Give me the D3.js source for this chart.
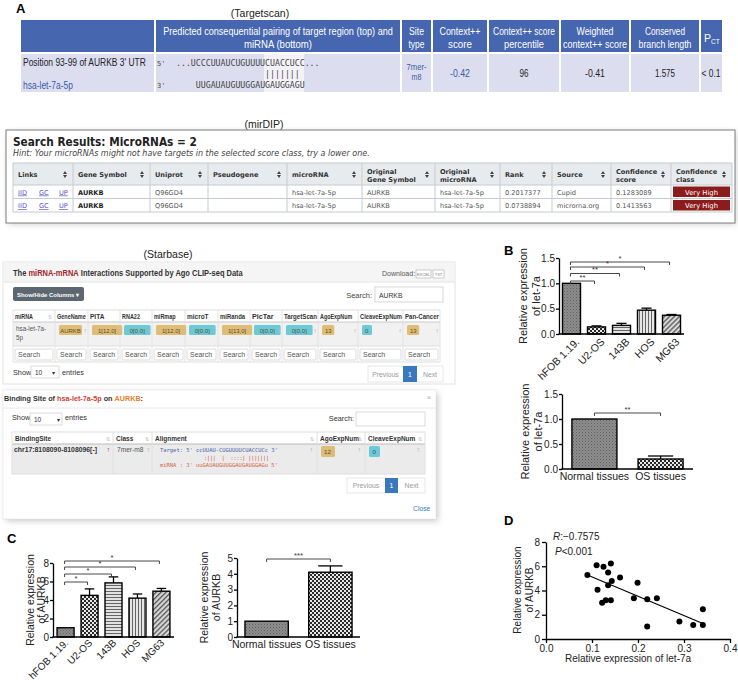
<!DOCTYPE html>
<html><head><meta charset="utf-8">
<script src="https://cdn.jsdelivr.net/npm/d3@7/dist/d3.min.js"></script>
<style>html,body{margin:0;padding:0;background:#fff;}svg{display:block;}</style>
</head><body>
<svg id="fig" width="738" height="680"></svg>
<script>
// ================= DATA =================
const cellLines = ["hFOB 1.19.", "U2-OS", "143B", "HOS", "MG63"];
const let7aCellMean = [1.0, 0.14, 0.17, 0.47, 0.37];
const let7aCellErr = [0, 0.02, 0.04, 0.04, 0.015];
const let7aCellSig = ["**", "**", "*", "*"];
const tissueGroups = ["Normal tissues", "OS tissues"];
const let7aTissueMean = [1.0, 0.2];
const let7aTissueErr = [0, 0.06];
const let7aTissueSig = ["**"];
const aurkbCellMean = [1.0, 4.5, 5.85, 4.2, 4.95];
const aurkbCellErr = [0, 0.7, 0.65, 0.45, 0.3];
const aurkbCellSig = ["*", "*", "*", "*"];
const aurkbTissueMean = [1.0, 4.1];
const aurkbTissueErr = [0, 0.4];
const aurkbTissueSig = ["***"];
const corrLet7a = [0.09, 0.11, 0.125, 0.141, 0.135, 0.143, 0.161, 0.135, 0.112, 0.199, 0.122, 0.130, 0.141, 0.191, 0.220, 0.241, 0.220, 0.290, 0.320, 0.341, 0.341];
const corrAurkb = [5.27, 6.09, 5.96, 6.23, 5.49, 4.78, 5.08, 4.43, 4.07, 4.64, 2.98, 3.20, 3.20, 3.36, 3.28, 3.36, 1.04, 1.45, 1.15, 2.46, 1.15];
const corrR = ["R", ":\u22120.7575"];
const corrP = ["P", "<0.001"];
const let7aTicks = [0, 0.5, 1.0, 1.5];
const aurkbCellTicks = [0, 2, 4, 6, 8];
const aurkbTissueTicks = [0, 1, 2, 3, 4, 5];
const corrXTicks = [0, 0.1, 0.2, 0.3, 0.4];
const corrYTicks = [0, 2, 4, 6, 8];

// Targetscan table
const tsHeader = [[], ["Predicted consequential pairing of target region (top) and", "miRNA (bottom)"], ["Site", "type"], ["Context++", "score"], ["Context++ score", "percentile"], ["Weighted", "context++ score"], ["Conserved", "branch length"]];
const tsHeaderW = [[], [230, 68], [15, 16], [41, 24], [62, 40], [37, 64], [40, 53]];
const tsSite = "Position 93-99 of AURKB 3' UTR";
const tsMirna = "hsa-let-7a-5p";
const tsTarget = "...UCCCUUAUCUGUUUUCUACCUCC...";
const tsPairs = "|||||||";
const tsMirSeq = "UUGAUAUGUUGGAUGAUGGAGU";
const tsSiteType = ["7mer-", "m8"];
const tsScores = ["-0.42", "96", "-0.41", "1.575", "< 0.1"];

// mirDIP table
const mdHeaders = [["Links"], ["Gene Symbol"], ["Uniprot"], ["Pseudogene"], ["microRNA"], ["Original", "Gene Symbol"], ["Original", "microRNA"], ["Rank"], ["Source"], ["Confidence", "score"], ["Confidence", "class"]];
const mdRows = [
  ["", "AURKB", "Q96GD4", "", "hsa-let-7a-5p", "AURKB", "hsa-let-7a-5p", "0.2017377", "Cupid", "0.1283089", "Very High"],
  ["", "AURKB", "Q96GD4", "", "hsa-let-7a-5p", "AURKB", "hsa-let-7a-5p", "0.0738894", "microrna.org", "0.1413563", "Very High"]
];
const mdLinks = ["IID", "GC", "UP"];

// Starbase
const sbTitle = [["The ", "#333"], ["miRNA-mRNA", "#a3262a"], [" Interactions Supported by Ago CLIP-seq Data", "#333"]];
const sbHeaders = ["miRNA", "GeneName", "PITA", "RNA22", "miRmap", "microT", "miRanda", "PicTar", "TargetScan", "AgoExpNum", "CleaveExpNum", "Pan-Cancer"];
const sbRow = ["hsa-let-7a-", "AURKB", "1[12,0]", "0[0,0]", "1[12,0]", "0[0,0]", "1[13,0]", "0[0,0]", "0[0,0]", "13", "0", "13"];
const sbBadge = ["", "o", "o", "t", "o", "t", "o", "t", "t", "o", "t", "o"];
const bsTitle = [["Binding Site of ", "#333"], ["hsa-let-7a-5p", "#d23a31"], [" on ", "#333"], ["AURKB", "#ea7f2a"], [":", "#333"]];
const bsHeaders = ["BindingSite", "Class", "Alignment", "AgoExpNum", "CleaveExpNum"];
const bsSite = "chr17:8108090-8108096[-]";
const bsClass = "7mer-m8";
const bsAlign = ["Target: 5' ccUUAU-CUGUUUUCUACCUCc 3'", ":|||  |  ::::| |||||||", "miRNA : 3' uuGAUAUGUUGGAUGAUGGAGu 5'"];
const bsAgo = "12", bsCleave = "0";

// ================= HELPERS =================
const FONT = "'Liberation Sans', Arial, Helvetica, sans-serif";
const MONO = "'DejaVu Sans Mono', 'Liberation Mono', monospace";
const VERD = "'DejaVu Sans', Verdana, sans-serif";
const svg = d3.select("#fig");
svg.append("rect").attr("width", 738).attr("height", 680).attr("fill", "#fff");

function T(g, x, y, s, o = {}) {
  const t = g.append("text").attr("x", x).attr("y", y).text(s)
    .attr("font-family", o.ff || FONT).attr("font-size", o.fs || 10).attr("fill", o.fill || "#222");
  if (o.fw) t.attr("font-weight", o.fw);
  if (o.it) t.attr("font-style", "italic");
  if (o.anchor) t.attr("text-anchor", o.anchor);
  if (o.pre) t.style("white-space", "pre");
  if (o.ul) t.attr("text-decoration", "underline");
  if (o.tl) t.attr("textLength", o.tl).attr("lengthAdjust", "spacingAndGlyphs");
  return t;
}
// horizontally condensed text: scaled so its drawn width equals w
function TC(g, x, y, s, w, o = {}) {
  const t = g.append("text").attr("x", 0).attr("y", 0)
    .attr("font-family", o.ff || FONT).attr("font-size", o.fs || 10).attr("fill", o.fill || "#222");
  if (Array.isArray(s)) s.forEach(p => t.append("tspan").attr("fill", p[1]).text(p[0]));
  else t.text(s);
  if (o.fw) t.attr("font-weight", o.fw);
  if (o.it) t.attr("font-style", "italic");
  if (o.anchor) t.attr("text-anchor", o.anchor);
  if (o.pre) t.style("white-space", "pre");
  const n = t.node().getComputedTextLength();
  t.attr("transform", `translate(${x},${y}) scale(${w / n},1)`);
  return t;
}
function R(g, x, y, w, h, o = {}) {
  return g.append("rect").attr("x", x).attr("y", y).attr("width", w).attr("height", h)
    .attr("fill", o.fill || "none").attr("stroke", o.stroke || "none").attr("stroke-width", o.sw || 1).attr("rx", o.rx || 0);
}
function L(g, x1, y1, x2, y2, col, sw) {
  return g.append("line").attr("x1", x1).attr("y1", y1).attr("x2", x2).attr("y2", y2).attr("stroke", col).attr("stroke-width", sw || 1);
}
function sortIcon(g, x, y, col) {
  g.append("path").attr("d", `M${x - 2},${y - 0.6}L${x + 2},${y - 0.6}L${x},${y - 3.4}Z M${x - 2},${y + 0.6}L${x + 2},${y + 0.6}L${x},${y + 3.4}Z`).attr("fill", col || "#555");
}

// patterns
const defs = svg.append("defs");
function pat(id, w, h, draw, tr) {
  const p = defs.append("pattern").attr("id", id).attr("patternUnits", "userSpaceOnUse").attr("width", w).attr("height", h);
  if (tr) p.attr("patternTransform", tr);
  draw(p);
}
pat("pDots", 3, 3, p => {
  p.append("rect").attr("width", 3).attr("height", 3).attr("fill", "#8e8e8e");
  p.append("rect").attr("width", 1).attr("height", 1).attr("fill", "#5e5e5e");
  p.append("rect").attr("x", 1.5).attr("y", 1.5).attr("width", 1).attr("height", 1).attr("fill", "#6a6a6a");
});
pat("pCheck", 4, 4, p => {
  p.append("rect").attr("width", 4).attr("height", 4).attr("fill", "#e6e6e6");
  p.append("rect").attr("width", 2).attr("height", 2).attr("fill", "#2a2a2a");
  p.append("rect").attr("x", 2).attr("y", 2).attr("width", 2).attr("height", 2).attr("fill", "#2a2a2a");
});
pat("pHoriz", 3, 3, p => {
  p.append("rect").attr("width", 3).attr("height", 3).attr("fill", "#e2e2e2");
  p.append("rect").attr("width", 3).attr("height", 1).attr("fill", "#666");
});
pat("pVert", 3, 3, p => {
  p.append("rect").attr("width", 3).attr("height", 3).attr("fill", "#e6e6e6");
  p.append("rect").attr("width", 1).attr("height", 3).attr("fill", "#666");
});
pat("pDiag", 3.5, 3.5, p => {
  p.append("rect").attr("width", 3.5).attr("height", 3.5).attr("fill", "#d8d8d8");
  p.append("rect").attr("width", 1.3).attr("height", 3.5).attr("fill", "#555");
}, "rotate(45)");
const blur = defs.append("filter").attr("id", "shadow").attr("x", "-5%").attr("y", "-5%").attr("width", "115%").attr("height", "120%");
blur.append("feGaussianBlur").attr("stdDeviation", 3);

// ================= PANEL A: Targetscan =================
const gA = svg.append("g");
T(gA, 16, 13, "A", { fw: "bold", fs: 13, fill: "#000" });
T(gA, 260, 17, "(Targetscan)", { anchor: "middle", fs: 10.5, fill: "#222" });
const tsEdges = [21, 155, 401, 432, 488, 560, 630, 700, 722];
R(gA, 21, 20, 701, 32, { fill: "#4666b0" });
R(gA, 21, 54, 701, 38, { fill: "#dcdef0" });
R(gA, 264, 54, 40, 38, { fill: "#f2f2f8" });
tsEdges.slice(1, -1).forEach(xv => L(gA, xv, 20, xv, 92, "#fff", 2));
tsHeader.forEach((lines, i) => {
  const cx = (tsEdges[i] + tsEdges[i + 1]) / 2;
  if (lines.length === 2) {
    TC(gA, cx, 35, lines[0], tsHeaderW[i][0], { anchor: "middle", fs: 11.5, fill: "#fff" });
    TC(gA, cx, 48, lines[1], tsHeaderW[i][1], { anchor: "middle", fs: 11.5, fill: "#fff" });
  }
});
{
  const pc = T(gA, 704, 42, "P", { fs: 10.5, fill: "#fff" });
  pc.append("tspan").attr("font-size", 6.5).attr("dy", 2).text("CT");
}
TC(gA, 23, 66, tsSite, 123, { fs: 10, fill: "#222" });
TC(gA, 23, 89, tsMirna, 50, { fs: 10, fill: "#3b5aa6" });
const cw = 4.95;
T(gA, 157, 66, "5'", { ff: MONO, fs: 7, fill: "#444" });
T(gA, 157, 88, "3'", { ff: MONO, fs: 7, fill: "#444" });
TC(gA, 176, 66, tsTarget, tsTarget.length * cw, { ff: MONO, fs: 8, fill: "#444" });
TC(gA, 176 + 18 * cw, 77, tsPairs, tsPairs.length * cw, { ff: MONO, fs: 8, fill: "#444" });
TC(gA, 176 + 18 * cw - 14 * cw, 88, tsMirSeq, tsMirSeq.length * cw, { ff: MONO, fs: 8, fill: "#444" });
TC(gA, 416.5, 70, tsSiteType[0], 20, { anchor: "middle", fs: 9, fill: "#3b5aa6" });
TC(gA, 416.5, 80, tsSiteType[1], 10, { anchor: "middle", fs: 9, fill: "#3b5aa6" });
const tsScoreW = [20, 9, 20, 20, 19];
tsScores.forEach((s, k) => {
  const i = k + 3;
  const cx = (tsEdges[i] + tsEdges[i + 1]) / 2;
  TC(gA, cx, 77, s, tsScoreW[k], { anchor: "middle", fs: 10, fill: k === 0 ? "#3b5aa6" : "#222" });
});

// ================= mirDIP =================
const gM = svg.append("g");
T(gM, 264, 128, "(mirDIP)", { anchor: "middle", fs: 10.5 });
R(gM, 8, 132, 728, 92, { fill: "#ccc" }).attr("filter", "url(#shadow)");
R(gM, 6, 130, 729, 93, { fill: "#fff", stroke: "#7d7d7d", sw: 1 });
TC(gM, 13, 146, "Search Results: MicroRNAs = 2", 184, { ff: VERD, fs: 12, fill: "#222", fw: "bold" });
TC(gM, 13, 156, "Hint: Your microRNAs might not have targets in the selected score class, try a lower one.", 357, { ff: VERD, fs: 8, fill: "#444", it: true });
const mdEdges = [13, 73, 150, 208, 287, 362, 435, 500, 552, 611, 671, 732];
const mdY = [163, 185, 198.5, 212];
R(gM, 13, 163, 719, 22, { fill: "#e7ebee" });
R(gM, 13, 163, 719, 49, { stroke: "#c5cbd0" });
mdY.slice(1, -1).forEach(yv => L(gM, 13, yv, 732, yv, "#c5cbd0", 1));
mdEdges.slice(1, -1).forEach(xv => L(gM, xv, 163, xv, 212, "#c5cbd0", 1));
mdHeaders.forEach((h, i) => {
  const x = mdEdges[i] + 5;
  if (h.length === 1) T(gM, x, 177, h[0], { ff: VERD, fs: 6.6, fw: "bold", fill: "#333" });
  else { T(gM, x, 173.5, h[0], { ff: VERD, fs: 6.6, fw: "bold", fill: "#333" }); T(gM, x, 181.5, h[1], { ff: VERD, fs: 6.6, fw: "bold", fill: "#333" }); }
  sortIcon(gM, mdEdges[i + 1] - 8, 174.5, "#444");
});
mdRows.forEach((row, r) => {
  const yb = r === 0 ? 194.5 : 208;
  mdLinks.forEach((l, k) => T(gM, [18, 39, 59][k], yb, l, { ff: VERD, fs: 6.6, fill: "#5b4fcf", ul: true }));
  row.forEach((c, i) => {
    if (i === 0 || c === "") return;
    if (i === 10) {
      R(gM, mdEdges[i] + 2, mdY[r + 1] + 1.5, mdEdges[i + 1] - mdEdges[i] - 4, mdY[r + 2] - mdY[r + 1] - 3, { fill: "#8c1c1c" });
      T(gM, (mdEdges[i] + mdEdges[i + 1]) / 2, yb, c, { ff: VERD, fs: 6.8, fill: "#fff", anchor: "middle" });
    } else {
      T(gM, mdEdges[i] + 5, yb, c, { ff: VERD, fs: 6.6, fill: i === 1 ? "#222" : "#555", fw: i === 1 ? "bold" : null });
    }
  });
});

// ================= Starbase =================
const gS = svg.append("g");
T(gS, 168, 258, "(Starbase)", { anchor: "middle", fs: 10.5 });
R(gS, 3, 262, 452, 122, { fill: "#fff", stroke: "#e2e2e2" });
R(gS, 3.5, 262.5, 451, 19, { fill: "#f5f5f5" });
L(gS, 3, 282, 455, 282, "#e2e2e2", 1);
TC(gS, 13, 276, sbTitle, 230, { fs: 8.5, fw: "bold", fill: "#333" });
T(gS, 382, 276, "Download:", { fs: 7, fill: "#555" });
R(gS, 416, 270, 15, 8, { fill: "#fff", stroke: "#aaa", sw: 0.6 });
R(gS, 433, 270, 11, 8, { fill: "#fff", stroke: "#aaa", sw: 0.6 });
T(gS, 423.5, 276.3, "EXCEL", { fs: 4, fill: "#777", anchor: "middle" });
T(gS, 438.5, 276.3, "TXT", { fs: 4, fill: "#777", anchor: "middle" });
R(gS, 13, 287, 71, 14, { fill: "#5d6771", rx: 2 });
TC(gS, 17, 296.5, "Show/Hide Columns \u25BE", 62, { fs: 6.2, fw: "bold", fill: "#fff" });
T(gS, 372, 298, "Search:", { fs: 7.5, fill: "#444", anchor: "end" });
R(gS, 375, 287, 68, 15, { fill: "#fff", stroke: "#ccc", sw: 0.8 });
T(gS, 379, 297.5, "AURKB", { fs: 6.8, fill: "#333" });
const sbEdges = [13, 55, 88, 120, 152, 185, 218, 250, 282, 318, 358, 403, 440];
R(gS, 13, 322, 427, 24, { fill: "#f1f1f1" });
L(gS, 13, 310, 440, 310, "#ddd", 1);
L(gS, 13, 322, 440, 322, "#ccc", 1.2);
L(gS, 13, 346, 440, 346, "#ddd", 1);
L(gS, 13, 362, 440, 362, "#ddd", 1);
sbEdges.forEach(xv => L(gS, xv, 310, xv, 362, "#e3e3e3", 1));
sbHeaders.forEach((h, i) => {
  const w = sbEdges[i + 1] - sbEdges[i];
  TC(gS, sbEdges[i] + 2, 319, h, Math.min(h.length * 3.6, w - 3), { fs: 6.3, fw: "bold", fill: "#333" });
  if (w > 33 && h.length < 8) T(gS, sbEdges[i + 1] - 7, 319, "\u21C5", { ff: VERD, fs: 5, fill: "#bbb" });
  R(gS, sbEdges[i] + 2, 349, w - 4, 11, { fill: "#fff", stroke: "#ccc", sw: 0.7, rx: 1 });
  TC(gS, sbEdges[i] + 5, 357, "Search", Math.min(22, w - 8), { fs: 6.3, fill: "#555" });
});
T(gS, 16, 331, sbRow[0], { fs: 6.3, fill: "#555" });
T(gS, 16, 340, "5p", { fs: 6.3, fill: "#555" });
sbRow.forEach((v, i) => {
  if (!sbBadge[i]) return;
  const col = sbBadge[i] === "o" ? "#e0bd74" : "#6ccad6";
  const bw = Math.max(10, v.length * 3.6 + 5);
  const bx = sbEdges[i] + 4;
  R(gS, bx, 325, bw, 10, { fill: col, rx: 1.5 });
  T(gS, bx + (v.length > 3 ? bw / 2 : 3), 332.5, v, { fs: 6, fill: "#5a4a2a", anchor: v.length > 3 ? "middle" : null });
  T(gS, sbEdges[i + 1] - 5, 332.5, "\u2191", { ff: VERD, fs: 5, fill: "#bbb" });
});
T(gS, 13, 375, "Show", { fs: 7.3, fill: "#333" });
R(gS, 31, 366, 28, 12, { fill: "#fff", stroke: "#ccc", sw: 0.7 });
T(gS, 35, 374.5, "10", { fs: 6.5, fill: "#333" });
T(gS, 52, 374.5, "\u25BE", { fs: 6, fill: "#333" });
T(gS, 62, 375, "entries", { fs: 7.3, fill: "#333" });
R(gS, 368, 366, 75, 16, { fill: "#fff", stroke: "#ddd", sw: 0.7 });
R(gS, 403, 366, 14, 16, { fill: "#3a78bd" });
T(gS, 385.5, 376.5, "Previous", { fs: 6.8, fill: "#999", anchor: "middle" });
T(gS, 410, 376.5, "1", { fs: 6.8, fill: "#fff", anchor: "middle" });
T(gS, 430, 376.5, "Next", { fs: 6.8, fill: "#999", anchor: "middle" });

// Modal
const gB = svg.append("g");
R(gB, 6, 393, 432, 128, { fill: "#c8c8c8" }).attr("filter", "url(#shadow)");
R(gB, 3, 390, 433, 129, { fill: "#fff", stroke: "#e0e0e0", sw: 0.5 });
TC(gB, 4, 401, bsTitle, 139, { fs: 7.5, fw: "bold", fill: "#333" });
T(gB, 427, 400, "\u00D7", { fs: 7, fill: "#aaa" });
L(gB, 3, 408, 436, 408, "#e8e8e8", 1);
T(gB, 12, 420, "Show", { fs: 7.3, fill: "#333" });
R(gB, 30, 413, 32, 12, { fill: "#fff", stroke: "#ccc", sw: 0.7 });
T(gB, 34, 421.5, "10", { fs: 6.5, fill: "#333" });
T(gB, 57, 421.5, "\u25BE", { fs: 6, fill: "#333" });
T(gB, 65, 420, "entries", { fs: 7.3, fill: "#333" });
T(gB, 354, 421, "Search:", { fs: 7.3, fill: "#333", anchor: "end" });
R(gB, 356, 412, 69, 14, { fill: "#fff", stroke: "#ccc", sw: 0.7 });
const bsEdges = [12, 113, 152, 317, 365, 425];
R(gB, 12, 444, 413, 30, { fill: "#ebebeb" });
L(gB, 12, 432, 425, 432, "#ddd", 1);
L(gB, 12, 444, 425, 444, "#bbb", 1.2);
L(gB, 12, 474, 425, 474, "#ddd", 1);
bsEdges.forEach(xv => L(gB, xv, 432, xv, 474, "#e0e0e0", 1));
bsHeaders.forEach((h, i) => {
  T(gB, bsEdges[i] + 3, 441, h, { fs: 6.5, fw: "bold", fill: "#333" });
  T(gB, bsEdges[i + 1] - 7, 441, "\u21C5", { ff: VERD, fs: 5, fill: "#bbb" });
});
TC(gB, 14, 452, bsSite, 83, { fs: 6.6, fw: "bold", fill: "#333" });
T(gB, 106, 452, "\u2191", { ff: VERD, fs: 5.5, fill: "#888" });
T(gB, 117, 452, bsClass, { fs: 6.6, fill: "#555" });
T(gB, 146, 452, "\u2191", { ff: VERD, fs: 5.5, fill: "#bbb" });
TC(gB, 160, 452, bsAlign[0], 118, { ff: MONO, fs: 5.5, fill: "#4d5fa8", pre: true });
TC(gB, 204, 459.5, bsAlign[1], 65, { ff: MONO, fs: 5.5, fill: "#d6453d", pre: true });
TC(gB, 160, 467, bsAlign[2], 118, { ff: MONO, fs: 5.5, fill: "#d6653d", pre: true });
T(gB, 309, 452, "\u2191", { ff: VERD, fs: 5.5, fill: "#bbb" });
R(gB, 321, 446, 14, 11, { fill: "#dcbd78", rx: 1.5 });
T(gB, 324, 454, bsAgo, { fs: 6.2, fill: "#5a4a2a" });
T(gB, 357, 452, "\u2191", { ff: VERD, fs: 5.5, fill: "#bbb" });
R(gB, 369, 446, 11, 11, { fill: "#6ccad6", rx: 1.5 });
T(gB, 372.5, 454, bsCleave, { fs: 6.2, fill: "#2a5a60" });
T(gB, 416, 452, "\u2191", { ff: VERD, fs: 5.5, fill: "#bbb" });
R(gB, 347, 478, 78, 15, { fill: "#fff", stroke: "#ddd", sw: 0.7 });
R(gB, 385, 478, 13, 15, { fill: "#3a78bd" });
T(gB, 366, 488, "Previous", { fs: 6.8, fill: "#999", anchor: "middle" });
T(gB, 391.5, 488, "1", { fs: 6.8, fill: "#fff", anchor: "middle" });
T(gB, 411.5, 488, "Next", { fs: 6.8, fill: "#999", anchor: "middle" });
T(gB, 413, 511, "Close", { fs: 6.8, fill: "#3a78bd" });

// ================= BAR CHART HELPER =================
function barChart(g, o) {
  const y = d3.scaleLinear().domain([0, o.max]).range([o.y0, o.y1]);
  const x = d3.scaleBand().domain(o.cats).range([o.x0, o.x1]).paddingInner(o.pi).paddingOuter(o.po);
  const ax = g.append("g").attr("transform", `translate(${o.x0},0)`)
    .call(d3.axisLeft(y).tickValues(o.ticks).tickFormat(o.fmt).tickSize(3).tickSizeOuter(0).tickPadding(1));
  ax.select(".domain").attr("stroke", "#000").attr("stroke-width", 1.3);
  ax.selectAll(".tick line").attr("stroke", "#000").attr("stroke-width", 1.3);
  ax.selectAll("text").attr("font-family", FONT).attr("font-size", o.tfs || 10).attr("fill", "#222");
  o.cats.forEach((c, i) => {
    const bx = x(c), bw = x.bandwidth(), v = o.vals[i], e = o.errs[i], cx = bx + bw / 2;
    if (e > 0) {
      L(g, cx, y(v), cx, y(v + e), "#000", 1.3);
      L(g, cx - bw * 0.28, y(v + e), cx + bw * 0.28, y(v + e), "#000", 1.3);
    }
    g.append("rect").attr("x", bx).attr("y", y(v)).attr("width", bw).attr("height", o.y0 - y(v))
      .attr("fill", `url(#${o.pats[i]})`).attr("stroke", "#000").attr("stroke-width", 1.4);
    if (o.rot) {
      g.append("text").attr("transform", `translate(${cx + o.rot[0]},${o.y0 + o.rot[1]}) rotate(-45)`)
        .attr("text-anchor", "end").attr("dy", "0.35em").attr("font-family", FONT).attr("font-size", o.cfs || 10.5).attr("fill", "#222").text(c);
    } else {
      T(g, cx, o.y0 + 11, c, { anchor: "middle", fs: 10.5, fill: "#222" });
    }
  });
  L(g, o.x0 - 0.6, o.y0, o.x1, o.y0, "#000", 1.3);
  o.sig.forEach((s, k) => {
    const xa = x(o.cats[0]) + x.bandwidth() / 2 - (o.rot ? 1 : 0);
    const xb = x(o.cats[k + 1]) + x.bandwidth() / 2 - (o.rot ? 2 : 0);
    const yb = o.brY[k];
    g.append("path").attr("d", `M${xa},${yb + 3}V${yb}H${xb}V${yb + 3}`).attr("fill", "none").attr("stroke", "#333").attr("stroke-width", 0.9);
    T(g, (xa + xb) / 2, yb - 1.5, s, { anchor: "middle", fs: 7.5, fill: "#333" });
  });
  o.ylab.forEach((l, k) => {
    g.append("text").attr("transform", `translate(${o.ylx[k]},${(o.y0 + o.y1) / 2}) rotate(-90)`)
      .attr("text-anchor", "middle").attr("font-family", FONT).attr("font-size", o.lfs || 11).attr("fill", "#222").text(l);
  });
}

// ================= PANEL B =================
const gBB = svg.append("g");
T(gBB, 504, 255, "B", { fw: "bold", fs: 13, fill: "#000" });
barChart(gBB, {
  cats: cellLines, vals: let7aCellMean, errs: let7aCellErr, max: 1.5, ticks: let7aTicks, fmt: d3.format(".1f"),
  x0: 559, x1: 684, y0: 334, y1: 258, pi: 0.28, po: 0.14, rot: [6, 6],
  pats: ["pDots", "pCheck", "pHoriz", "pVert", "pDiag"], sig: let7aCellSig, brY: [281, 273.5, 267, 262],
  ylab: ["Relative expression", "of let-7a"], ylx: [527, 539.5]
});
barChart(gBB, {
  cats: tissueGroups, vals: let7aTissueMean, errs: let7aTissueErr, max: 1.5, ticks: let7aTicks, fmt: d3.format(".1f"),
  x0: 562, x1: 693, y0: 469, y1: 394, pi: 0.32, po: 0.15, rot: null,
  pats: ["pDots", "pCheck"], sig: let7aTissueSig, brY: [413],
  ylab: ["Relative expression", "of let-7a"], ylx: [529, 541.5]
});

// ================= PANEL C =================
const gC = svg.append("g");
T(gC, 7, 543, "C", { fw: "bold", fs: 13, fill: "#000" });
barChart(gC, {
  cats: cellLines, vals: aurkbCellMean, errs: aurkbCellErr, max: 8, ticks: aurkbCellTicks, fmt: d3.format("d"),
  x0: 53, x1: 174, y0: 637, y1: 563, pi: 0.29, po: 0.17, rot: [1, 4], cfs: 10,
  pats: ["pDots", "pCheck", "pHoriz", "pVert", "pDiag"], sig: aurkbCellSig, brY: [582, 574, 567, 561],
  ylab: ["Relative expression", "of AURKB"], ylx: [33.5, 45], lfs: 10.5
});
barChart(gC, {
  cats: tissueGroups, vals: aurkbTissueMean, errs: aurkbTissueErr, max: 5, ticks: aurkbTissueTicks, fmt: d3.format("d"),
  x0: 237, x1: 360, y0: 637, y1: 558, pi: 0.32, po: 0.125, rot: null,
  pats: ["pDots", "pCheck"], sig: aurkbTissueSig, brY: [559],
  ylab: ["Relative expression", "of AURKB"], ylx: [208, 220], lfs: 10.5
});

// ================= PANEL D =================
const gD = svg.append("g");
T(gD, 504, 525, "D", { fw: "bold", fs: 13, fill: "#000" });
const xs = d3.scaleLinear().domain([0, 0.4]).range([546, 730]);
const ys = d3.scaleLinear().domain([0, 8]).range([639, 542]);
const axX = gD.append("g").attr("transform", "translate(0,639)")
  .call(d3.axisBottom(xs).tickValues(corrXTicks).tickFormat(d3.format(".1f")).tickSize(4).tickSizeOuter(0).tickPadding(2));
const axY = gD.append("g").attr("transform", "translate(546,0)")
  .call(d3.axisLeft(ys).tickValues(corrYTicks).tickFormat(d3.format("d")).tickSize(4).tickSizeOuter(0).tickPadding(2));
[axX, axY].forEach(a => {
  a.select(".domain").attr("stroke", "#000").attr("stroke-width", 1.3);
  a.selectAll(".tick line").attr("stroke", "#000").attr("stroke-width", 1.3);
  a.selectAll("text").attr("font-family", FONT).attr("font-size", 10).attr("fill", "#222");
});
{
  const n = corrLet7a.length;
  const mx = d3.mean(corrLet7a), my = d3.mean(corrAurkb);
  let sxy = 0, sxx = 0;
  for (let i = 0; i < n; i++) { sxy += (corrLet7a[i] - mx) * (corrAurkb[i] - my); sxx += (corrLet7a[i] - mx) ** 2; }
  const b = sxy / sxx, a = my - b * mx;
  const xa = d3.min(corrLet7a), xb = d3.max(corrLet7a);
  L(gD, xs(xa), ys(a + b * xa), xs(xb), ys(a + b * xb), "#000", 1.2);
  gD.selectAll("circle.pt").data(corrLet7a).enter().append("circle").attr("class", "pt")
    .attr("cx", d => xs(d)).attr("cy", (d, i) => ys(corrAurkb[i])).attr("r", 3).attr("fill", "#000");
}
{
  const t1 = gD.append("text").attr("x", 553).attr("y", 540).attr("font-family", FONT).attr("font-size", 10).attr("fill", "#222");
  t1.append("tspan").attr("font-style", "italic").text(corrR[0]);
  t1.append("tspan").text(corrR[1]);
  const t2 = gD.append("text").attr("x", 555).attr("y", 555).attr("font-family", FONT).attr("font-size", 10).attr("fill", "#222");
  t2.append("tspan").attr("font-style", "italic").text(corrP[0]);
  t2.append("tspan").text(corrP[1]);
}
gD.append("text").attr("transform", "translate(521,590) rotate(-90)").attr("text-anchor", "middle")
  .attr("font-family", FONT).attr("font-size", 10).attr("fill", "#222").text("Relative expression");
gD.append("text").attr("transform", "translate(533,590) rotate(-90)").attr("text-anchor", "middle")
  .attr("font-family", FONT).attr("font-size", 10).attr("fill", "#222").text("of AURKB");
T(gD, 628, 662, "Relative expression of let-7a", { anchor: "middle", fs: 10, fill: "#222" });
</script>
</body></html>
